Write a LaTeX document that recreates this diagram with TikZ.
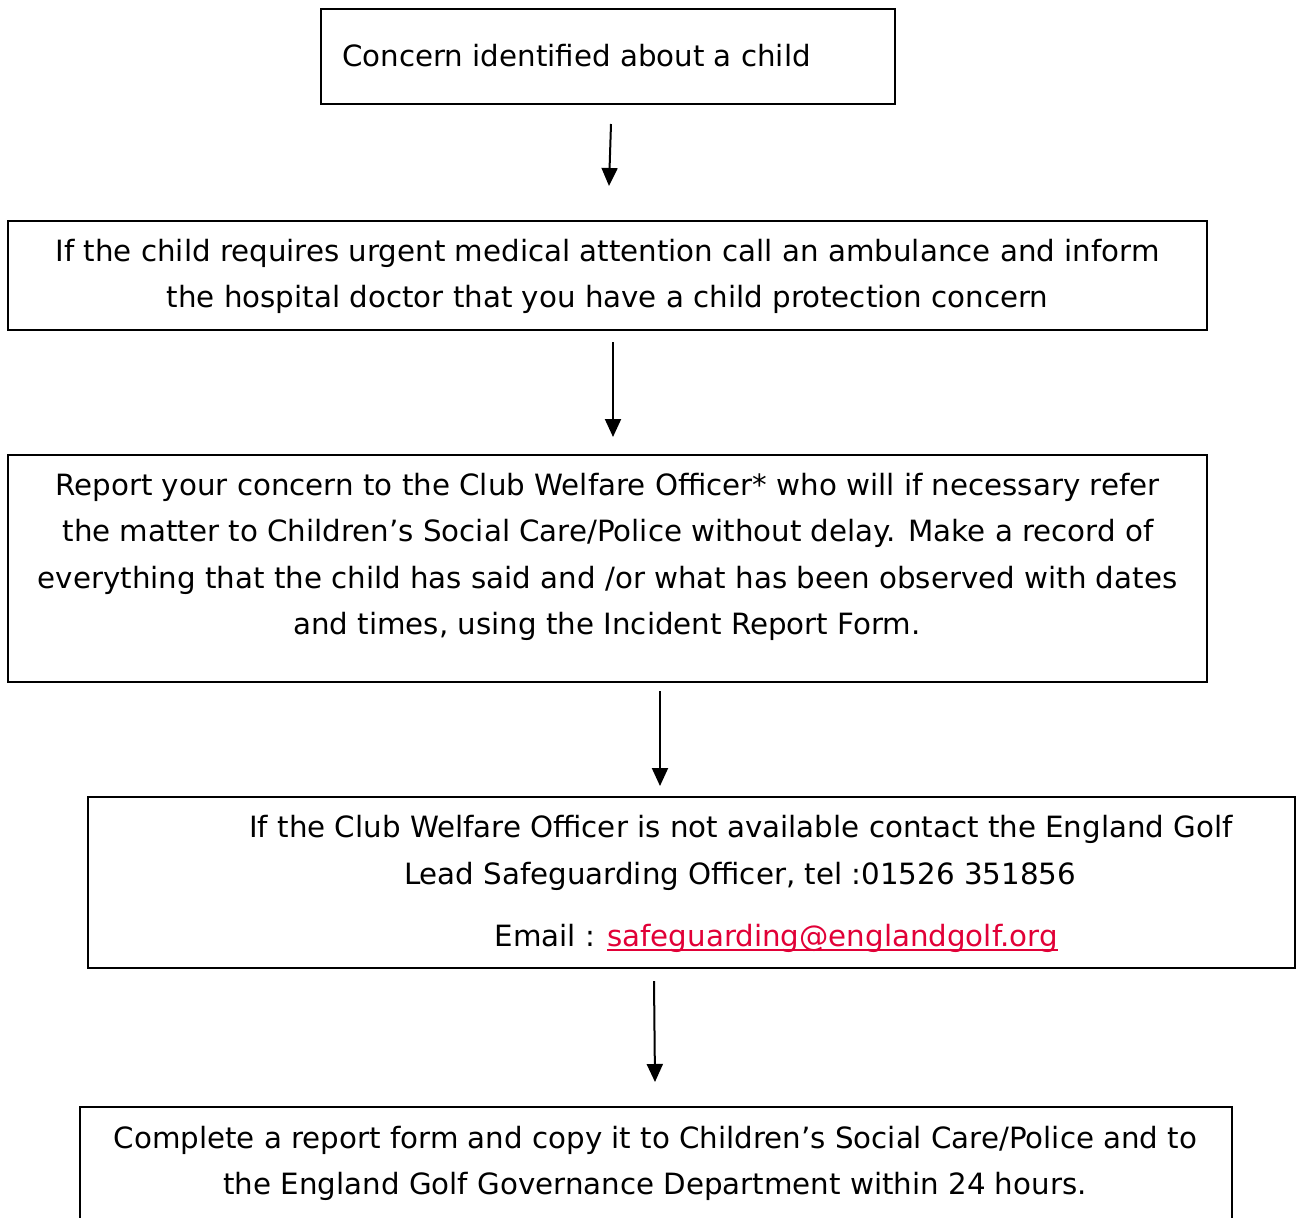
\documentclass[tikz,border=0pt]{standalone}
\usepackage{fontspec}
\setmainfont{DejaVu Sans}
\usetikzlibrary{arrows.meta}
\definecolor{linkred}{RGB}{225,0,55}
\newcommand{\linkul}[1]{\setbox0\hbox{#1}\rlap{\raisebox{-4.5pt}{\rule{\wd0}{2pt}}}\box0}
\begin{document}
\begin{tikzpicture}[x=1pt,y=-1pt,
  box/.style={draw,line width=2.6pt,rectangle,inner sep=0pt},
  txt/.style={anchor=base,inner sep=0pt,font=\fontsize{29.3}{46}\selectfont},
  flow/.style={line width=2pt,-{Triangle[length=18pt,width=16pt]}}]
\useasboundingbox (0,0) rectangle (1296,1218);
\clip (0,0) rectangle (1296,1218);
\fill[white] (0,0) rectangle (1296,1218);
% boxes
\node[box,minimum width=574pt,minimum height=95pt] (b1) at (608,56.5) {};
\node[box,minimum width=1199pt,minimum height=109pt] (b2) at (607.5,275.5) {};
\node[box,minimum width=1199pt,minimum height=227pt] (b3) at (607.5,568.5) {};
\node[box,minimum width=1207pt,minimum height=171pt] (b4) at (691.5,882.5) {};
\node[box,minimum width=1152pt,minimum height=143pt] (b5) at (656,1178.5) {};
% texts
\node[txt,anchor=base west] (t1) at (342,66) {Concern identified about a child};
\node[txt] (t2a) at (607.5,261) {If the child requires urgent medical attention call an ambulance and inform};
\node[txt] (t2b) at (607.5,307) {the hospital doctor that you have a child protection concern};
\node[txt] (t3a) at (607.5,495) {Report your concern to the Club Welfare Officer* who will if necessary refer};
\node[txt] (t3b) at (608,541) {the matter to Children’s Social Care/Police without delay. Make a record of};
\node[txt] (t3c) at (607.5,588) {everything that the child has said and /or what has been observed with dates};
\node[txt] (t3d) at (607,634) {and times, using the Incident Report Form.};
\node[txt] (t4a) at (741,837) {If the Club Welfare Officer is not available contact the England Golf};
\node[txt] (t4b) at (740,884) {Lead Safeguarding Officer, tel :01526 351856};
\node[txt] (t4c) at (776,946) {Email : \textcolor{linkred}{\linkul{safeguarding@englandgolf.org}}};
\node[txt] (t5a) at (655.5,1148) {Complete a report form and copy it to Children’s Social Care/Police and to};
\node[txt] (t5b) at (655,1194) {the England Golf Governance Department within 24 hours.};
% arrows
\coordinate (a1s) at (611,124); \coordinate (a1e) at (609,186);
\coordinate (a2s) at (613,342); \coordinate (a2e) at (613,437);
\coordinate (a3s) at (660,691); \coordinate (a3e) at (660,786);
\coordinate (a4s) at (654,981); \coordinate (a4e) at (655,1082);
\draw[flow] (a1s) -- (a1e);
\draw[flow] (a2s) -- (a2e);
\draw[flow] (a3s) -- (a3e);
\draw[flow] (a4s) -- (a4e);
\end{tikzpicture}
\end{document}
